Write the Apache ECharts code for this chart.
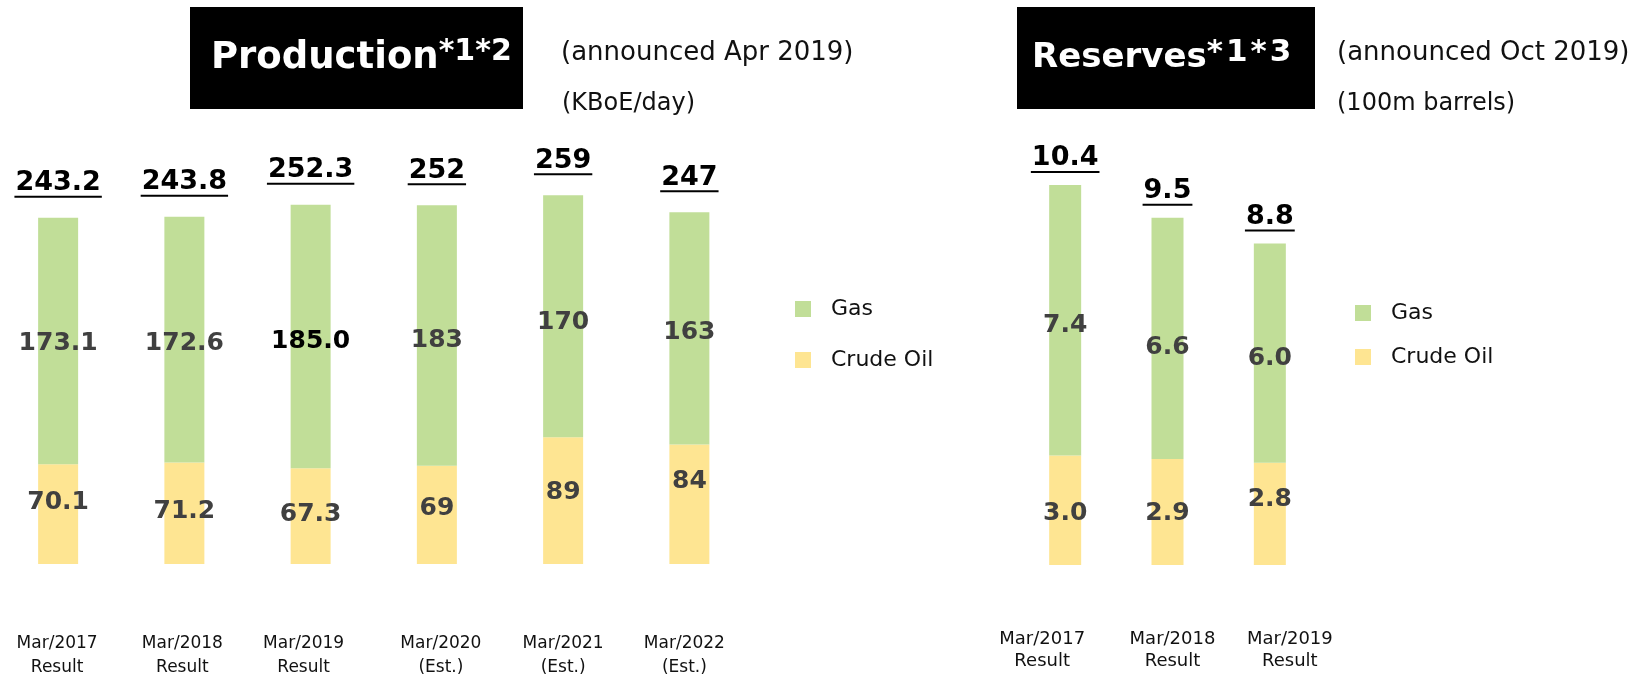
<!DOCTYPE html>
<html>
<head>
<meta charset="utf-8">
<script src="https://cdn.jsdelivr.net/npm/echarts@6/dist/echarts.min.js"></script>
<style>
  html, body { margin: 0; padding: 0; background: #fff; }
  #chart { width: 1645px; height: 676px; }
</style>
</head>
<body>
<div id="chart"></div>
<script>
// production, KBoE/day
var productionCategories = ['Mar/2017\nResult', 'Mar/2018\nResult', 'Mar/2019\nResult',
                            'Mar/2020\n(Est.)', 'Mar/2021\n(Est.)', 'Mar/2022\n(Est.)'];
var productionOil = [70.1, 71.2, 67.3, 69, 89, 84];
var productionGas = [173.1, 172.6, 185.0, 183, 170, 163];
var productionTotal = [243.2, 243.8, 252.3, 252, 259, 247];
var productionDecimals = [1, 1, 1, 0, 0, 0];

// reserves, 100m barrels
var reserveCategories = ['Mar/2017\nResult', 'Mar/2018\nResult', 'Mar/2019\nResult'];
var reserveOil = [3.0, 2.9, 2.8];
var reserveGas = [7.4, 6.6, 6.0];
var reserveTotal = [10.4, 9.5, 8.8];
var reserveDecimals = [1, 1, 1];

var GAS = '#c1de98';
var OIL = '#fee592';
var FONT = 'DejaVu Sans';

// the slide places its labels a bit loosely; small nudges (px) to follow it
var productionLabelShift = [-1, -2, -7, 4, 0, -5];
var reserveLabelShift = [-23, 5, 20];
var productionOilNudge = [-12, -2, -2, -6, -8, -23];
var productionGasNudge = [3, 4, 5, 5, 6, 4];
var reserveOilNudge = [3, 1, -14];
var reserveGasNudge = [5, 9, 5];

var measureCtx = document.createElement('canvas').getContext('2d');
function textWidth(s, font) {
	measureCtx.font = font;
	return measureCtx.measureText(s).width;
}

function fmt(v, d) {
	return v.toFixed(d);
}

// total label: bold number with an underline bar under it
function totalSeries(name, totals, decimals, axisIdx, distance) {
	var rich = {};
	totals.forEach(function (v, i) {
		var s = fmt(v, decimals[i]);
		rich['u' + i] = {
			width: textWidth(s, 'bold 27px "' + FONT + '"') + 2,
			height: 2, lineHeight: 2, backgroundColor: '#000'
		};
	});
	rich.t = { fontSize: 27, fontWeight: 'bold', fontFamily: FONT, color: '#000', lineHeight: 25 };
	return {
		name: name,
		type: 'scatter',
		xAxisIndex: axisIdx, yAxisIndex: axisIdx,
		symbolSize: 0,
		itemStyle: { color: '#000', opacity: 1 },
		silent: true,
		emphasis: { disabled: true },
		label: {
			show: true, position: 'top', distance: distance, color: '#000', opacity: 1,
			formatter: function (p) {
				return '{t|' + fmt(totals[p.dataIndex], decimals[p.dataIndex]) + '}\n{u' + p.dataIndex + '| }';
			},
			rich: rich
		},
		data: totals
	};
}

function shiftedLabels(shifts, fontSize, lineHeight) {
	var rich = {};
	shifts.forEach(function (s, i) {
		rich['s' + i] = {
			fontSize: fontSize, lineHeight: lineHeight, fontFamily: FONT, color: '#111',
			padding: s > 0 ? [0, 0, 0, 2 * s] : [0, -2 * s, 0, 0]
		};
	});
	return {
		interval: 0,
		fontSize: fontSize, lineHeight: lineHeight, fontFamily: FONT, color: '#111',
		formatter: function (value, idx) {
			return value.split('\n').map(function (l) {
				return '{s' + idx + '|' + l + '}';
			}).join('\n');
		},
		rich: rich
	};
}

function stackSeries(name, values, decimals, color, axisIdx, barWidth, nudge, darkIdx) {
	return {
		name: name,
		type: 'bar',
		stack: 'total' + axisIdx,
		xAxisIndex: axisIdx, yAxisIndex: axisIdx,
		barWidth: barWidth,
		itemStyle: { color: color },
		label: {
			show: true, position: 'inside',
			fontSize: 25, fontWeight: 'bold', fontFamily: FONT, color: '#404040',
			formatter: function (p) { return fmt(values[p.dataIndex], decimals[p.dataIndex]); }
		},
		data: values.map(function (v, i) {
			var lbl = { offset: [0, nudge[i]] };
			if (i === darkIdx) lbl.color = '#000';
			return { value: v, label: lbl };
		})
	};
}

// white header box text: name plus a raised footnote mark
function headerText(name, marks, left, size, markSize, markGap) {
	var parts = marks.split('').map(function (c, i) {
		return '{' + (i === 0 ? 'b' : 'c') + '|' + c + '}';
	}).join('');
	var mark = { fontSize: markSize, fontWeight: 'bold', fontFamily: FONT, fill: '#fff', lineHeight: 34,
	             verticalAlign: 'top', padding: [2, 0, 0, 0] };
	return {
		type: 'text', left: left, top: 35.5,
		style: {
			text: '{a|' + name + '}' + parts,
			rich: {
				a: { fontSize: size, fontWeight: 'bold', fontFamily: FONT, fill: '#fff', lineHeight: 46 },
				b: mark,
				c: Object.assign({}, mark, { padding: [2, 0, 0, markGap] })
			}
		}
	};
}

var chart = echarts.init(document.getElementById('chart'));

var hiddenY = {
	type: 'value', min: 0,
	axisLine: { show: false }, axisTick: { show: false },
	axisLabel: { show: false }, splitLine: { show: false }
};

var option = {
	backgroundColor: '#fff',
	animation: false,
	textStyle: { fontFamily: FONT },
	grid: [
		{ left: -5, top: 136.8, width: 757.5, height: 427.2, outerBoundsMode: 'none', containLabel: false },
		{ left: 1014, top: 126.5, width: 307, height: 438.5, outerBoundsMode: 'none', containLabel: false }
	],
	xAxis: [
		{
			type: 'category', gridIndex: 0, data: productionCategories,
			axisLine: { show: false }, axisTick: { show: false },
			axisLabel: Object.assign(shiftedLabels(productionLabelShift, 17, 24), { margin: 68 })
		},
		{
			type: 'category', gridIndex: 1, data: reserveCategories,
			axisLine: { show: false }, axisTick: { show: false },
			axisLabel: Object.assign(shiftedLabels(reserveLabelShift, 18, 22), { margin: 63 })
		}
	],
	yAxis: [
		Object.assign({ gridIndex: 0, max: 300 }, hiddenY),
		Object.assign({ gridIndex: 1, max: 12 }, hiddenY)
	],
	legend: [
		{
			orient: 'vertical', left: 795, top: 298, padding: 0,
			itemWidth: 16, itemHeight: 16, itemGap: 29, icon: 'rect',
			selectedMode: false,
			textStyle: { fontSize: 22, lineHeight: 22, color: '#111', fontFamily: FONT, padding: [0, 0, 0, 15] },
			data: ['Gas', 'Crude Oil']
		},
		{
			orient: 'vertical', left: 1355, top: 302, padding: 0,
			itemWidth: 16, itemHeight: 16, itemGap: 22, icon: 'rect',
			selectedMode: false,
			textStyle: { fontSize: 22, lineHeight: 22, color: '#111', fontFamily: FONT, padding: [0, 0, 0, 15] },
			data: ['Gas', 'Crude Oil']
		}
	],
	graphic: [
		{ type: 'rect', left: 190, top: 7, shape: { width: 333, height: 102 }, style: { fill: '#000' } },
		headerText('Production', '*1*2', 211, 37, 30, 0),
		{ type: 'rect', left: 1017, top: 7, shape: { width: 298, height: 102 }, style: { fill: '#000' } },
		headerText('Reserves', '*1*3', 1032, 34, 31, 3),
		{ type: 'text', left: 561, top: 40, style: { text: '(announced Apr 2019)', font: '26px "' + FONT + '"', fill: '#111' } },
		{ type: 'text', left: 562, top: 92, style: { text: '(KBoE/day)', font: '24px "' + FONT + '"', fill: '#111' } },
		{ type: 'text', left: 1337, top: 40, style: { text: '(announced Oct 2019)', font: '26px "' + FONT + '"', fill: '#111' } },
		{ type: 'text', left: 1337, top: 92, style: { text: '(100m barrels)', font: '24px "' + FONT + '"', fill: '#111' } }
	],
	series: [
		stackSeries('Crude Oil', productionOil, productionDecimals, OIL, 0, 40, productionOilNudge, -1),
		stackSeries('Gas', productionGas, productionDecimals, GAS, 0, 40, productionGasNudge, 2),
		totalSeries('Production total', productionTotal, productionDecimals, 0, 20),
		stackSeries('Crude Oil', reserveOil, reserveDecimals, OIL, 1, 32, reserveOilNudge, -1),
		stackSeries('Gas', reserveGas, reserveDecimals, GAS, 1, 32, reserveGasNudge, -1),
		totalSeries('Reserves total', reserveTotal, reserveDecimals, 1, 12)
	]
};

chart.setOption(option);
</script>
</body>
</html>
